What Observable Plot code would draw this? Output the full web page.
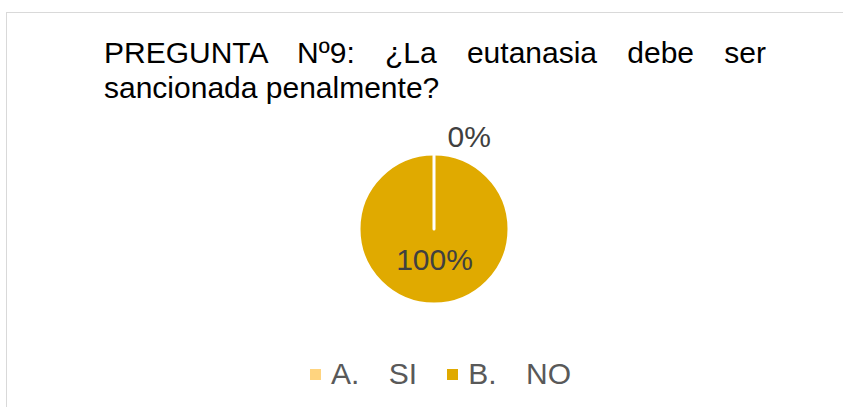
<!DOCTYPE html>
<html>
<head>
<meta charset="utf-8">
<script src="https://cdn.jsdelivr.net/npm/d3@7"></script>
<script src="https://cdn.jsdelivr.net/npm/@observablehq/plot@0.6"></script>
<style>
  html, body { margin: 0; padding: 0; background: #fff; }
  #chart { position: relative; width: 843px; height: 407px; overflow: hidden;
           font-family: "Liberation Sans", Arial, sans-serif; }
  #frame { position: absolute; left: 6px; top: 12px; width: 860px; height: 420px;
           border: 1px solid #D9D9D9; box-sizing: border-box; }
  #title { position: absolute; left: 104px; top: 35px; width: 662px; font-size: 30px;
           line-height: 35px; color: #000; text-align: justify; }
  #plot { position: absolute; left: 0; top: 0; }
  #legend { position: absolute; left: 310px; top: 359px; display: flex; align-items: center;
            font-size: 30px; line-height: 30px; color: #595959; white-space: pre; word-spacing: 1.5px; }
  .item { display: flex; align-items: center; margin-right: 30px; }
  .sw { width: 11px; height: 11px; margin-right: 10px; }
</style>
</head>
<body>
<div id="chart">
  <div id="frame"></div>
  <div id="plot"></div>
  <div id="title"></div>
  <div id="legend"></div>
</div>
<script>
// ---- data ----
const titleText = "PREGUNTA Nº9: ¿La eutanasia debe ser sancionada penalmente?";
const categories = ["A.   SI", "B.   NO"];
const percents = [0, 100];
const colors = ["#FFD47F", "#E0AA00"];

// ---- build ----
const data = categories.map((c, i) => ({category: c, value: percents[i]}));
const total = d3.sum(percents);
const arcs = d3.pie().sort(null).value(d => d.value)(data);

const colorScale = Plot.scale({color: {type: "ordinal", domain: categories, range: colors}});

const labelData = arcs.map(a => {
  const mid = (a.startAngle + a.endAngle) / 2;
  const zero = a.data.value === 0;
  const k = zero ? 1.23 : 0.41;
  return {
    lx: Math.sin(mid) * k,
    ly: Math.cos(mid) * k,
    label: d3.format(".0%")(a.data.value / total),
    zero
  };
});

function slices(index, scales) {
  const cx = scales.x(0), cy = scales.y(0);
  const r = Math.abs(scales.x(1) - scales.x(0));
  const arc = d3.arc().innerRadius(0).outerRadius(r);
  const g = d3.create("svg:g").attr("transform", `translate(${cx},${cy})`);
  const ordered = arcs.slice().sort((a, b) => (a.data.value === 0) - (b.data.value === 0));
  g.selectAll("path").data(ordered).join("path")
    .attr("d", arc)
    .attr("fill", d => colorScale.apply(d.data.category))
    .attr("stroke", "#fff")
    .attr("stroke-width", 3)
    .attr("stroke-linejoin", "round");
  return g.node();
}

const R = 75, CX = 434, CY = 229;
const plot = Plot.plot({
  width: 843,
  height: 407,
  margin: 0,
  x: {domain: [-1, 1], range: [CX - R, CX + R], axis: null},
  y: {domain: [-1, 1], range: [CY + R, CY - R], axis: null},
  style: {background: "transparent", fontFamily: "'Liberation Sans', Arial, sans-serif"},
  marks: [
    slices,
    Plot.text(labelData.filter(d => !d.zero), {x: "lx", y: "ly", text: "label",
      fontSize: 30, fill: "#404040", textAnchor: "middle"}),
    Plot.text(labelData.filter(d => d.zero), {x: "lx", y: "ly", text: "label",
      fontSize: 30, fill: "#404040", textAnchor: "start", dx: 13})
  ]
});
document.getElementById("plot").appendChild(plot);

document.getElementById("title").textContent = titleText;

const legend = d3.select("#legend");
categories.forEach((c, i) => {
  const it = legend.append("div").attr("class", "item");
  it.append("div").attr("class", "sw").style("background", colorScale.apply(c));
  it.append("span").text(c);
});
</script>
</body>
</html>
